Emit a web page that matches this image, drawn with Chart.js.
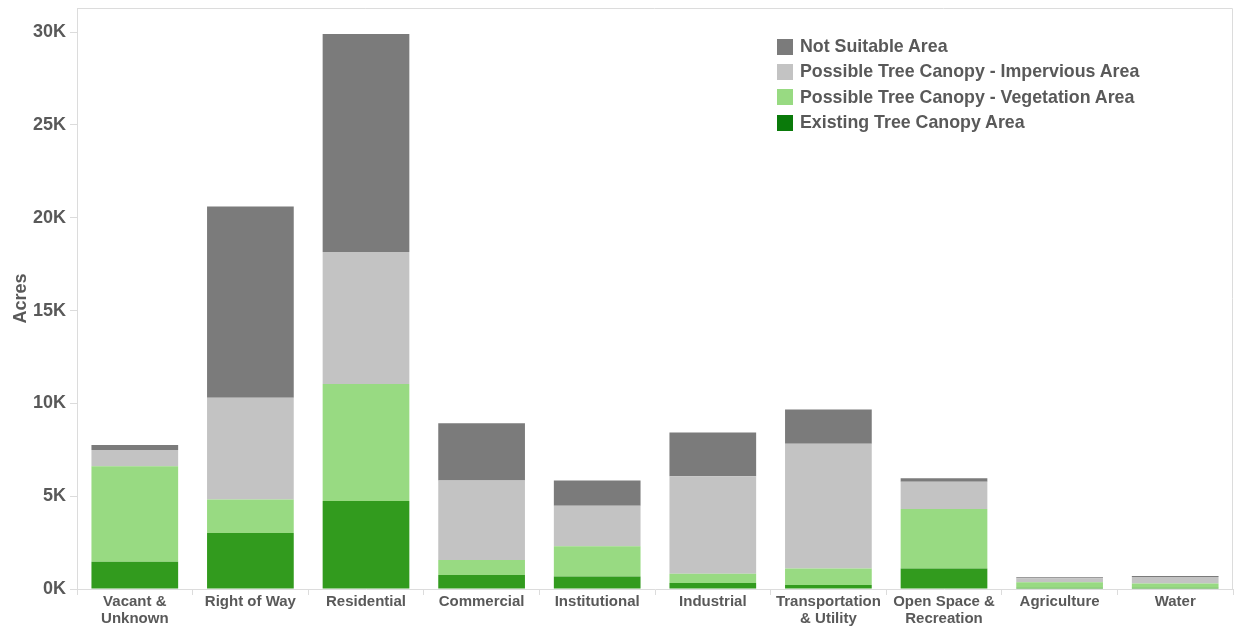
<!DOCTYPE html>
<html>
<head>
<meta charset="utf-8">
<script src="https://cdn.jsdelivr.net/npm/chart.js@4"></script>
<style>
    html, body { margin: 0; padding: 0; background: #fff; }
    #wrap { position: relative; width: 1235px; height: 643px; }
    #legend {
        position: absolute; left: 777px; top: 34px;
        font: bold 17.8px "Liberation Sans", Arial, sans-serif; color: #595959;
    }
    .legend-item { display: flex; align-items: center; height: 25.3px; }
    .legend-box { width: 16px; height: 16px; margin-right: 7px; }
</style>
</head>
<body>
<div id="wrap">
    <canvas id="chart" width="1235" height="643"></canvas>
    <div id="legend"></div>
</div>
<script>
// categories along the x axis
const categories = [
    ['Vacant &', 'Unknown'], 'Right of Way', 'Residential', 'Commercial', 'Institutional',
    'Industrial', ['Transportation', '& Utility'], ['Open Space &', 'Recreation'], 'Agriculture', 'Water'
];

// acres per land use
const existingCanopy = [1470, 3020, 4740, 750, 680, 320, 220, 1110, 70, 70];
const possibleVegetation = [5140, 1800, 6310, 810, 1620, 500, 890, 3200, 290, 230];
const possibleImpervious = [880, 5480, 7100, 4280, 2190, 5250, 6710, 1470, 220, 350];
const notSuitable = [270, 10310, 11750, 3090, 1350, 2360, 1850, 180, 50, 50];

const seriesNames = [
    'Existing Tree Canopy Area',
    'Possible Tree Canopy - Vegetation Area',
    'Possible Tree Canopy - Impervious Area',
    'Not Suitable Area'
];
const barColors = ['#329b1e', '#98da82', '#c3c3c3', '#7b7b7b'];
const legendColors = ['#0a7a0a', '#98da82', '#c3c3c3', '#7b7b7b'];

const yTicks = [0, 5000, 10000, 15000, 20000, 25000, 30000];

const textColor = '#595959';
const axisColor = '#dcdcdc';
const fontFamily = '"Liberation Sans", Arial, sans-serif';

// draws the light frame on top and right of the plot area
const framePlugin = {
    id: 'frame',
    beforeDraw(chart) {
        const { ctx, chartArea } = chart;
        ctx.save();
        ctx.strokeStyle = axisColor;
        ctx.lineWidth = 1;
        ctx.beginPath();
        ctx.moveTo(chartArea.left, chartArea.top + 0.5);
        ctx.lineTo(chartArea.right - 0.5, chartArea.top + 0.5);
        ctx.lineTo(chartArea.right - 0.5, chartArea.bottom);
        ctx.stroke();
        ctx.restore();
    }
};

const allSeries = [existingCanopy, possibleVegetation, possibleImpervious, notSuitable];

const chart = new Chart(document.getElementById('chart').getContext('2d'), {
    type: 'bar',
    data: {
        labels: categories,
        datasets: allSeries.map((values, i) => ({
            label: seriesNames[i],
            data: values,
            backgroundColor: barColors[i],
            borderWidth: 0,
            barPercentage: 0.75,
            categoryPercentage: 1
        }))
    },
    options: {
        responsive: false,
        animation: false,
        layout: { padding: { top: 8, right: 2, left: 0, bottom: 0 } },
        plugins: {
            legend: { display: false },
            tooltip: { enabled: false }
        },
        scales: {
            x: {
                stacked: true,
                afterFit(scale) {
                    scale.height = 54;
                    scale.paddingLeft = 0;
                    scale.paddingRight = 0;
                },
                grid: {
                    offset: true,
                    drawOnChartArea: false,
                    tickLength: 6,
                    color: axisColor
                },
                border: { color: axisColor },
                ticks: {
                    color: textColor,
                    padding: -2,
                    maxRotation: 0,
                    autoSkip: false,
                    font: { family: fontFamily, size: 15, weight: 'bold', lineHeight: 1.15 }
                }
            },
            y: {
                stacked: true,
                min: 0,
                max: 31300,
                afterFit(scale) {
                    scale.width = 77;
                    scale.paddingTop = 0;
                    scale.paddingBottom = 0;
                },
                afterBuildTicks(scale) {
                    scale.ticks = yTicks.map(v => ({ value: v }));
                },
                grid: {
                    drawOnChartArea: false,
                    tickLength: 7,
                    color: axisColor
                },
                border: { color: axisColor },
                ticks: {
                    color: textColor,
                    padding: 4,
                    font: { family: fontFamily, size: 18, weight: 'bold' },
                    callback: v => (v / 1000) + 'K'
                },
                title: {
                    display: true,
                    text: 'Acres',
                    color: textColor,
                    padding: { top: 10, bottom: 0 },
                    font: { family: fontFamily, size: 18, weight: 'bold' }
                }
            }
        }
    },
    plugins: [framePlugin]
});

// legend, top series first like the original
const legendDiv = document.getElementById('legend');
for (let i = seriesNames.length - 1; i >= 0; i--) {
    const item = document.createElement('div');
    item.className = 'legend-item';
    item.innerHTML = `<span class="legend-box" style="background:${legendColors[i]}"></span><span>${seriesNames[i]}</span>`;
    legendDiv.appendChild(item);
}
</script>
</body>
</html>
